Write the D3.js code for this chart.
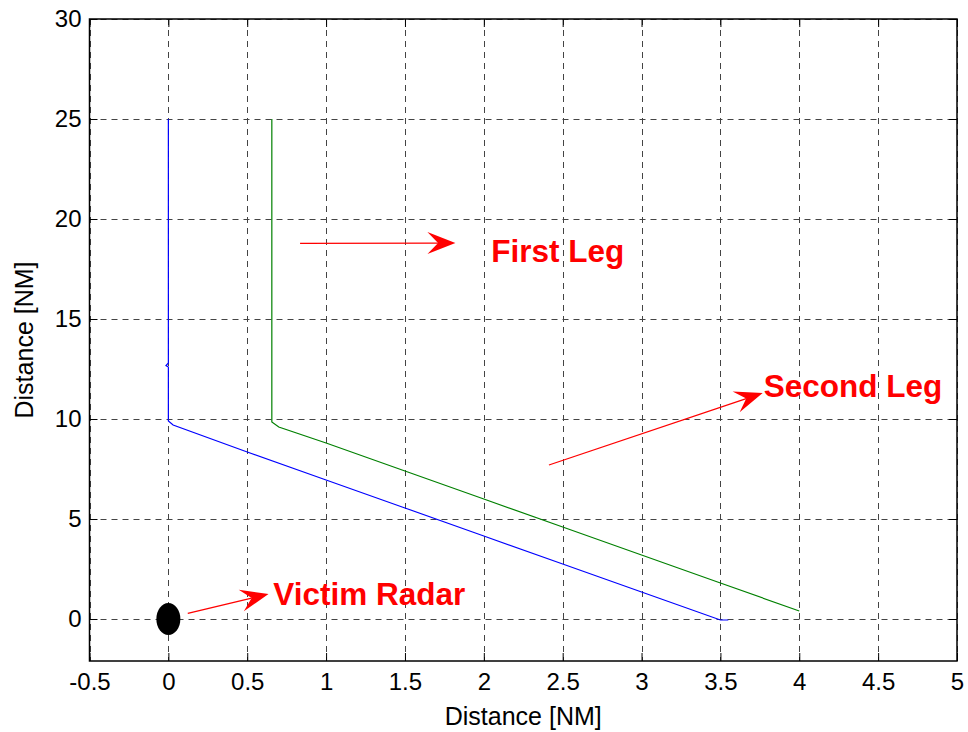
<!DOCTYPE html>
<html>
<head>
<meta charset="utf-8">
<script src="https://cdn.jsdelivr.net/npm/d3@7"></script>
<style>
  html, body { margin: 0; padding: 0; background: #fff; }
  svg { display: block; font-family: Arial, "Liberation Sans", Helvetica, sans-serif; }
</style>
</head>
<body>
<svg id="chart" width="968" height="732"></svg>
<script>
// ---- data ----
const xTicks = [-0.5, 0, 0.5, 1, 1.5, 2, 2.5, 3, 3.5, 4, 4.5, 5];
const xTickLabels = ["-0.5", "0", "0.5", "1", "1.5", "2", "2.5", "3", "3.5", "4", "4.5", "5"];
const yTicks = [0, 5, 10, 15, 20, 25, 30];
const yTickLabels = ["0", "5", "10", "15", "20", "25", "30"];

const blueTrack = [
  [0, 25], [0, 12.8], [-0.015, 12.67], [0, 12.6], [0, 9.9], [0.03, 9.7],
  [0.5, 8.35], [1, 6.95], [1.5, 5.55], [2, 4.15], [2.5, 2.75], [3, 1.35],
  [3.5, -0.05], [3.55, -0.05]
];
const greenTrack = [
  [0.656, 25], [0.656, 9.85], [0.7, 9.6], [1, 8.8], [1.5, 7.4], [2, 6.0],
  [2.5, 4.6], [3, 3.2], [3.5, 1.8], [4.0, 0.4]
];
const radar = [[0, 0]];

// annotations: arrow start, arrow tip, label anchor (data units)
const annotations = [
  { text: "First Leg",    from: [0.835, 18.78], to: [1.82, 18.8],  at: [2.047, 17.87] },
  { text: "Second Leg",   from: [2.413, 7.7],   to: [3.768, 11.3], at: [3.774, 11.1] },
  { text: "Victim Radar", from: [0.123, 0.285], to: [0.635, 1.25], at: [0.665, 0.7] }
];

// ---- layout ----
const svg = d3.select("#chart");
const L = 89.5, R = 957, T = 19, B = 661;
const x = d3.scaleLinear().domain([-0.5, 5]).range([L, R]);
const y = d3.scaleLinear().domain([-2.1, 30]).range([B, T]);

// grid
const grid = svg.append("g").attr("stroke", "#444").attr("stroke-width", 1)
  .attr("stroke-dasharray", "6,5").attr("fill", "none");
xTicks.forEach(t => {
  grid.append("line").attr("x1", Math.round(x(t)) + 0.5).attr("x2", Math.round(x(t)) + 0.5)
    .attr("y1", T).attr("y2", B);
});
yTicks.forEach(t => {
  grid.append("line").attr("y1", Math.round(y(t)) + 0.5).attr("y2", Math.round(y(t)) + 0.5)
    .attr("x1", L).attr("x2", R);
});

// axes using d3 axis (inward ticks)
const tickLen = 8;
const xAxisB = d3.axisBottom(x).tickValues(xTicks).tickFormat((d, i) => xTickLabels[i])
  .tickSizeInner(-tickLen).tickSizeOuter(0).tickPadding(12);
const xAxisT = d3.axisTop(x).tickValues(xTicks).tickFormat("")
  .tickSizeInner(-tickLen).tickSizeOuter(0);
const yAxisL = d3.axisLeft(y).tickValues(yTicks).tickFormat((d, i) => yTickLabels[i])
  .tickSizeInner(-tickLen).tickSizeOuter(0).tickPadding(8);
const yAxisR = d3.axisRight(y).tickValues(yTicks).tickFormat("")
  .tickSizeInner(-tickLen).tickSizeOuter(0);

function styleAxis(g) {
  g.select(".domain").remove();
  g.selectAll(".tick line").attr("stroke", "#000").attr("stroke-width", 1);
  g.selectAll(".tick text").attr("fill", "#000").style("font-size", "24px")
    .style("font-family", "Arial, 'Liberation Sans', sans-serif");
}
svg.append("g").attr("transform", `translate(0,${B})`).call(xAxisB).call(styleAxis);
svg.append("g").attr("transform", `translate(0,${T})`).call(xAxisT).call(styleAxis);
svg.append("g").attr("transform", `translate(${L},0)`).call(yAxisL).call(styleAxis);
svg.append("g").attr("transform", `translate(${R},0)`).call(yAxisR).call(styleAxis);

// frame
svg.append("rect").attr("x", L).attr("y", T).attr("width", R - L).attr("height", B - T)
  .attr("fill", "none").attr("stroke", "#000").attr("stroke-width", 1.5);

// tracks
const line = d3.line().x(d => x(d[0])).y(d => y(d[1]));
svg.append("path").datum(blueTrack).attr("d", line)
  .attr("fill", "none").attr("stroke", "#0000ff").attr("stroke-width", 1.2);
svg.append("path").datum(greenTrack).attr("d", line)
  .attr("fill", "none").attr("stroke", "#008000").attr("stroke-width", 1.2);

// radar marker
svg.selectAll(".radar").data(radar).enter().append("ellipse")
  .attr("cx", d => x(d[0])).attr("cy", d => y(d[1]))
  .attr("rx", 12).attr("ry", 16).attr("fill", "#000");

// annotations
annotations.forEach(a => {
  const x1 = x(a.from[0]), y1 = y(a.from[1]);
  const x2 = x(a.to[0]), y2 = y(a.to[1]);
  const dx = x2 - x1, dy = y2 - y1, len = Math.hypot(dx, dy);
  const ux = dx / len, uy = dy / len, px = -uy, py = ux;
  const HL = 28, HW = 11, notch = 0.62;
  const bx = x2 - ux * HL, by = y2 - uy * HL;
  const nx = x2 - ux * HL * notch, ny = y2 - uy * HL * notch;
  svg.append("line").attr("x1", x1).attr("y1", y1).attr("x2", nx).attr("y2", ny)
    .attr("stroke", "#ff0000").attr("stroke-width", 1.3);
  svg.append("path")
    .attr("d", `M${x2},${y2} L${bx + px * HW},${by + py * HW} L${nx},${ny} L${bx - px * HW},${by - py * HW} Z`)
    .attr("fill", "#ff0000");
  svg.append("text").attr("x", x(a.at[0])).attr("y", y(a.at[1]))
    .attr("fill", "#ff0000").style("font-weight", "bold").style("font-size", "31.5px")
    .text(a.text);
});

// axis labels
svg.append("text").attr("x", (L + R) / 2).attr("y", 725).attr("text-anchor", "middle")
  .style("font-size", "25px").attr("fill", "#000").text("Distance [NM]");
svg.append("text").attr("transform", `translate(33,${(T + B) / 2}) rotate(-90)`)
  .attr("text-anchor", "middle").style("font-size", "25px").attr("fill", "#000")
  .text("Distance [NM]");
</script>
</body>
</html>
